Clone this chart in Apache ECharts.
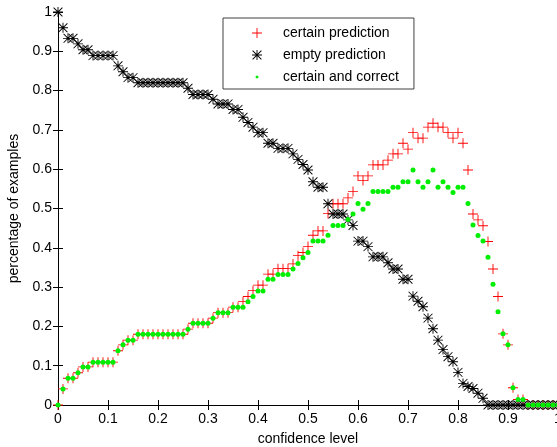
<!DOCTYPE html>
<html>
<head>
<meta charset="utf-8">
<script src="https://cdn.jsdelivr.net/npm/echarts@6/dist/echarts.min.js"></script>
<style>
html,body{margin:0;padding:0;background:#fff;}
#chart{width:557px;height:447px;}
</style>
</head>
<body>
<div id="chart"></div>
<script>
// ---- data ----
var confidence = [0,0.01,0.02,0.03,0.04,0.05,0.06,0.07,0.08,0.09,
0.10,0.11,0.12,0.13,0.14,0.15,0.16,0.17,0.18,0.19,
0.20,0.21,0.22,0.23,0.24,0.25,0.26,0.27,0.28,0.29,
0.30,0.31,0.32,0.33,0.34,0.35,0.36,0.37,0.38,0.39,
0.40,0.41,0.42,0.43,0.44,0.45,0.46,0.47,0.48,0.49,
0.50,0.51,0.52,0.53,0.54,0.55,0.56,0.57,0.58,0.59,
0.60,0.61,0.62,0.63,0.64,0.65,0.66,0.67,0.68,0.69,
0.70,0.71,0.72,0.73,0.74,0.75,0.76,0.77,0.78,0.79,
0.80,0.81,0.82,0.83,0.84,0.85,0.86,0.87,0.88,0.89,
0.90,0.91,0.92,0.93,0.94,0.95,0.96,0.97,0.98,0.99,1.00];

var certainPrediction = [0,0.041,0.068,0.068,0.082,0.097,0.097,0.109,0.109,0.109,
0.109,0.109,0.138,0.153,0.165,0.165,0.18,0.18,0.18,0.18,
0.18,0.18,0.18,0.18,0.18,0.18,0.193,0.208,0.208,0.208,
0.208,0.221,0.235,0.235,0.235,0.249,0.249,0.263,0.276,0.291,
0.305,0.305,0.333,0.333,0.347,0.347,0.347,0.359,0.38,0.388,
0.403,0.432,0.443,0.443,0.487,0.512,0.512,0.512,0.527,0.543,
0.583,0.571,0.583,0.611,0.611,0.611,0.623,0.639,0.639,0.666,
0.651,0.693,0.679,0.679,0.707,0.717,0.707,0.707,0.693,0.679,
0.693,0.666,0.598,0.486,0.471,0.456,0.416,0.346,0.276,0.181,
0.153,0.044,0.014,0.014,0,0,0,0,0,0,0];

var emptyPrediction = [1,0.96,0.933,0.933,0.919,0.904,0.904,0.889,0.889,0.889,
0.889,0.889,0.863,0.848,0.833,0.833,0.82,0.82,0.82,0.82,
0.82,0.82,0.82,0.82,0.82,0.82,0.806,0.79,0.79,0.79,
0.79,0.778,0.766,0.766,0.766,0.752,0.752,0.732,0.719,0.707,
0.693,0.693,0.666,0.666,0.653,0.653,0.653,0.639,0.625,0.612,
0.598,0.568,0.554,0.554,0.512,0.486,0.486,0.486,0.471,0.457,
0.417,0.417,0.403,0.377,0.377,0.377,0.362,0.346,0.346,0.32,
0.32,0.277,0.264,0.25,0.221,0.194,0.165,0.141,0.123,0.11,
0.083,0.055,0.047,0.042,0.03,0.017,0,0,0,0,
0,0,0,0,0,0,0,0,0,0,0];

var certainAndCorrect = [0,0.041,0.068,0.068,0.082,0.097,0.097,0.109,0.109,0.109,
0.109,0.109,0.138,0.153,0.165,0.165,0.18,0.18,0.18,0.18,
0.18,0.18,0.18,0.18,0.18,0.18,0.193,0.208,0.208,0.208,
0.208,0.221,0.235,0.235,0.235,0.249,0.249,0.249,0.263,0.276,
0.29,0.29,0.32,0.32,0.332,0.332,0.332,0.346,0.36,0.375,
0.388,0.417,0.417,0.417,0.432,0.457,0.457,0.457,0.472,0.486,
0.513,0.498,0.513,0.543,0.543,0.543,0.543,0.554,0.554,0.568,
0.568,0.598,0.568,0.554,0.568,0.598,0.554,0.568,0.554,0.541,
0.554,0.554,0.513,0.458,0.431,0.417,0.376,0.307,0.237,0.181,
0.153,0.044,0.014,0.014,0,0,0,0,0,0,0];

var seriesNames = ['certain prediction', 'empty prediction', 'certain and correct'];
var xTickLabels = ['0','0.1','0.2','0.3','0.4','0.5','0.6','0.7','0.8','0.9','1'];
var yTickLabels = ['0','0.1','0.2','0.3','0.4','0.5','0.6','0.7','0.8','0.9','1'];
var xAxisName = 'confidence level';
var yAxisName = 'percentage of examples';

// ---- helpers ----
function pairs(ys){ return confidence.map(function(x,i){ return [x, ys[i]]; }); }
var plusPath = 'path://M5,0H6V11H5Z M0,5H11V6H0Z';
var starPath = 'path://M5,0H6V11H5Z M0,5H11V6H0Z M1,0.3L10.7,10L10,10.7L0.3,1Z M10,0.3L10.7,1L1,10.7L0.3,10Z M4,4H7V7H4Z';
var dotLegendPath = 'path://M0,0M11,11M3.5,5.5L5.5,3.5L7.5,5.5L5.5,7.5Z';
var FONT = 'Liberation Sans, Arial, sans-serif';

var chart = echarts.init(document.getElementById('chart'), null, {renderer:'canvas'});
var axisLineStyle = {color:'#000', width:1};
var option = {
  backgroundColor:'#fff',
  animation:false,
  textStyle:{fontFamily:FONT},
  grid:{left:58, top:12, width:500, height:393, containLabel:false, outerBoundsMode:'none'},
  legend:{
    left:223, top:18, orient:'vertical',
    backgroundColor:'#fff', borderColor:'#404040', borderWidth:1, borderRadius:0,
    padding:[8,15,5,29], itemGap:8, itemWidth:42, itemHeight:10,
    textStyle:{fontSize:14, color:'#000', fontFamily:FONT},
    data:[
      {name:seriesNames[0], icon:plusPath},
      {name:seriesNames[1], icon:starPath},
      {name:seriesNames[2], icon:dotLegendPath}
    ]
  },
  xAxis:[{
    type:'value', min:0, max:1, interval:0.1, position:'bottom',
    name:xAxisName, nameLocation:'middle', nameGap:27,
    nameTextStyle:{fontSize:14, color:'#000', fontFamily:FONT},
    axisLine:{lineStyle:axisLineStyle},
    axisTick:{inside:true, length:5, lineStyle:axisLineStyle},
    axisLabel:{color:'#000', fontSize:14, margin:7, fontFamily:FONT,
      formatter:function(v){ return xTickLabels[Math.round(v*10)]; }},
    splitLine:{show:false}
  },{
    type:'value', min:0, max:1, interval:0.1, position:'top',
    axisLine:{lineStyle:axisLineStyle},
    axisTick:{inside:true, length:5, lineStyle:axisLineStyle},
    axisLabel:{show:false}, splitLine:{show:false}
  }],
  yAxis:[{
    type:'value', min:0, max:1, interval:0.1, position:'left',
    name:yAxisName, nameLocation:'middle', nameGap:30, nameRotate:90,
    nameTextStyle:{fontSize:14, color:'#000', fontFamily:FONT},
    axisLine:{lineStyle:axisLineStyle},
    axisTick:{inside:true, length:5, lineStyle:axisLineStyle},
    axisLabel:{color:'#000', fontSize:14, margin:6, fontFamily:FONT,
      formatter:function(v){ return yTickLabels[Math.round(v*10)]; }},
    splitLine:{show:false}
  },{
    type:'value', min:0, max:1, interval:0.1, position:'right',
    axisLine:{lineStyle:axisLineStyle},
    axisTick:{inside:true, length:5, lineStyle:axisLineStyle},
    axisLabel:{show:false}, splitLine:{show:false}
  }],
  series:[
    {name:seriesNames[0], type:'scatter', xAxisIndex:0, yAxisIndex:0,
     symbol:plusPath, symbolSize:10, itemStyle:{color:'#ff0000', opacity:1},
     data:pairs(certainPrediction), z:2},
    {name:seriesNames[1], type:'scatter', xAxisIndex:0, yAxisIndex:0,
     symbol:starPath, symbolSize:10, itemStyle:{color:'#000', opacity:1},
     data:pairs(emptyPrediction), z:3},
    {name:seriesNames[2], type:'scatter', xAxisIndex:0, yAxisIndex:0,
     symbol:'circle', symbolSize:5, itemStyle:{color:'#00ee00', opacity:1},
     data:pairs(certainAndCorrect), z:4}
  ]
};
chart.setOption(option);
</script>
</body>
</html>
